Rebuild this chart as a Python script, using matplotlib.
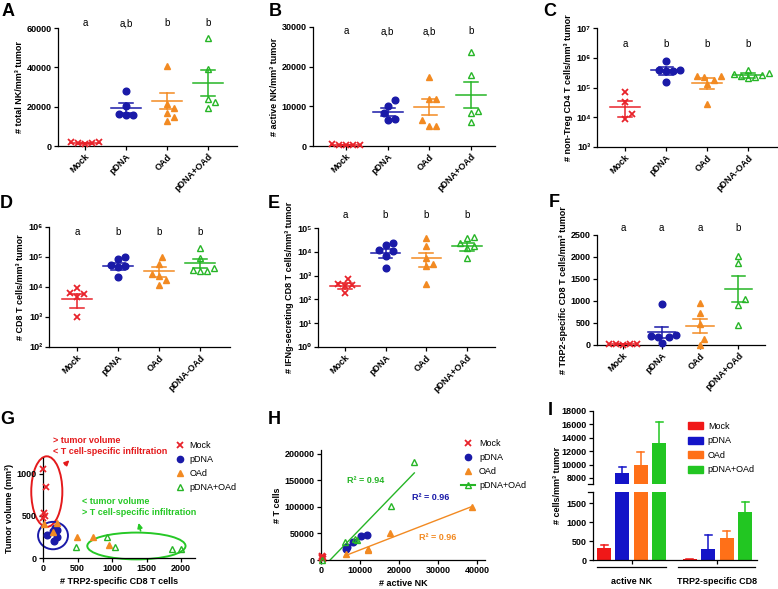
import numpy as np
import matplotlib
matplotlib.use("Agg")
import matplotlib.pyplot as plt
import matplotlib.transforms as mtransforms
from matplotlib.lines import Line2D
from matplotlib.patches import Ellipse, Patch
from matplotlib.ticker import FixedLocator, FuncFormatter, NullLocator

plt.rcParams["font.family"] = ["Liberation Sans", "DejaVu Sans"]
plt.rcParams["axes.linewidth"] = 0.9

W, H = 778, 589

groups = ["Mock", "pDNA", "OAd", "pDNA+OAd"]
groups_dash = ["Mock", "pDNA", "OAd", "pDNA-OAd"]
colors = ["#e8232b", "#1a1aa8", "#f28a22", "#26b526"]
bar_colors = ["#f01818", "#1414c8", "#ff7018", "#22c622"]

# A: total NK per mm3
total_nk = [[900, 1400, 1800, 1300, 2200],
            [28000, 20500, 16200, 15800, 16000],
            [40800, 21400, 19500, 17000, 15000, 12500],
            [55000, 39200, 24000, 22500, 19500]]
total_nk_mean = [1500, 19150, 22900, 32000]
total_nk_sem = [250, 2500, 4200, 6800]
total_nk_sig = ["a", "a,b", "b", "b"]

# B: active NK per mm3
active_nk = [[200, 300, 350, 250, 400],
             [11700, 10200, 8200, 6600, 6700],
             [17500, 11900, 11800, 6500, 5100, 5100],
             [23800, 17900, 8700, 8300, 6000]]
active_nk_mean = [300, 8570, 9750, 12940]
active_nk_sem = [60, 1050, 2000, 3300]
active_nk_sig = ["a", "a,b", "a,b", "b"]

# C: non-Treg CD4 T cells per mm3
cd4 = [[70000, 33000, 12400, 8600],
       [750000, 390000, 380000, 360000, 370000, 155000],
       [250000, 240000, 220000, 180000, 130000, 27000],
       [400000, 300000, 290000, 270000, 250000, 220000, 210000]]
cd4_mean = [22500, 380000, 146000, 265000]
cd4_sem = [12000, 110000, 60000, 50000]
cd4_sig = ["a", "b", "b", "b"]

# D: CD8 T cells per mm3
cd8 = [[9500, 6300, 5700, 4500, 1000],
       [100000, 86000, 55000, 50000, 46000, 22000],
       [98000, 60000, 28000, 24000, 17000, 12000],
       [200000, 95000, 42000, 36000, 34000, 33000]]
cd8_mean = [3960, 49300, 34400, 63700]
cd8_sem = [2000, 12500, 13000, 22000]
cd8_sig = ["a", "b", "b", "b"]

# E: IFNg-secreting CD8 T cells per mm3
ifng = [[720, 430, 400, 380, 190],
        [24000, 20000, 12000, 11000, 6800, 2100],
        [38000, 18000, 5500, 3000, 2500, 440],
        [40000, 38000, 23000, 17000, 14000, 5300]]
ifng_mean = [378, 9340, 5760, 16800]
ifng_sem = [110, 4000, 3500, 6000]
ifng_sig = ["a", "b", "b", "b"]

# F: TRP2-specific CD8 T cells per mm3
trp2 = [[15, 20, 25, 10, 30],
        [940, 220, 200, 190, 180, 50],
        [960, 720, 480, 140, 0],
        [2020, 1860, 1040, 910, 460]]
trp2_mean = [20, 288, 432, 1265]
trp2_sem = [5, 130, 150, 295]
trp2_sig = ["a", "a", "a", "b"]

# G: TRP2-specific CD8 T cells vs tumour volume
g_trp2 = [[0, 50, 15, 25, 0],
          [60, 150, 180, 200, 200, 155],
          [15, 145, 490, 720, 955, 200],
          [472, 925, 1040, 1865, 2000]]
g_volume = [[1060, 840, 530, 500, 480],
            [275, 320, 360, 330, 255, 207],
            [400, 310, 255, 255, 150, 420],
            [135, 255, 127, 104, 111]]

# H: active NK vs T cells
h_nk = [[300, 400, 200, 500, 300],
        [6500, 8100, 10300, 11800, 6600],
        [6500, 12000, 12100, 17600, 38700],
        [200, 6200, 8600, 9200, 18000, 23900]]
h_tcells = [[8000, 5000, 3000, 2000, 6000],
            [21500, 34000, 45500, 47500, 24000],
            [11000, 18000, 21000, 51000, 99000],
            [0, 33000, 40000, 37000, 101000, 185000]]
h_r2 = ["", "0.96", "0.96", "0.94"]

# I: mean and SD of active NK and TRP2-specific CD8
i_categories = ["active NK", "TRP2-specific CD8"]
i_active_nk = [330, 8750, 10000, 13150]
i_active_nk_sd = [70, 950, 1900, 3250]
i_trp2 = [20, 291, 591, 1271]
i_trp2_sd = [5, 370, 186, 274]

SUP = str.maketrans("0123456789-", "⁰¹²³⁴⁵⁶⁷⁸⁹⁻")

fig = plt.figure(figsize=(W / 100, H / 100), dpi=100)


def fy(y):
    return 1 - y / H


def add_ax(left, top, right, bottom):
    return fig.add_axes([left / W, fy(bottom), (right - left) / W, (bottom - top) / H])


def style(ax):
    ax.spines["top"].set_visible(False)
    ax.spines["right"].set_visible(False)
    ax.tick_params(width=0.9, length=3, labelsize=6.5, pad=1.5)
    for t in ax.get_yticklabels() + ax.get_xticklabels():
        t.set_fontweight("bold")


def swarm(ax, x0, ys, d=7):
    disp = ax.transData.transform(np.column_stack([np.full(len(ys), x0), ys]))
    order = np.argsort(disp[:, 1])
    placed = []
    xs = np.zeros(len(ys))
    steps = [0, 0.5, -0.5, 1, -1, 1.5, -1.5, 2, -2, 2.5, -2.5, 3, -3]
    for i in order:
        yi = disp[i, 1]
        for k in steps:
            xi = disp[i, 0] + k * d
            if all((xi - px) ** 2 + (yi - py) ** 2 >= d * d for px, py in placed):
                break
        placed.append((xi, yi))
        xs[i] = xi
    return ax.transData.inverted().transform(np.column_stack([xs, disp[:, 1]]))[:, 0]


def draw_marker(ax, x, y, k, size=4.8):
    if k == 0:
        ax.plot(x, y, ls="none", marker="x", ms=size - 0.5, mew=1.3, color=colors[k], clip_on=False, zorder=3)
    elif k == 1:
        ax.plot(x, y, ls="none", marker="o", ms=size, color=colors[k], clip_on=False, zorder=3)
    elif k == 2:
        ax.plot(x, y, ls="none", marker="^", ms=size, color=colors[k], clip_on=False, zorder=3)
    else:
        ax.plot(x, y, ls="none", marker="^", ms=size, mfc="none", mew=1.0, color=colors[k], clip_on=False, zorder=3)


def dot_panel(box, data, means, sems, sig, sig_y, xlabels, ylabel, ylim, yticks, xlim, log=False):
    ax = add_ax(*box)
    if log:
        ax.set_yscale("log")
    ax.set_xlim(*xlim)
    ax.set_ylim(*ylim)
    ax.yaxis.set_major_locator(FixedLocator(yticks))
    ax.yaxis.set_minor_locator(NullLocator())
    if log:
        ax.yaxis.set_major_formatter(FuncFormatter(
            lambda v, p: "10" + str(int(round(np.log10(v)))).translate(SUP)))
    ax.set_xticks(range(4))
    ax.set_xticklabels(xlabels, rotation=45, ha="right", rotation_mode="anchor")
    style(ax)
    for k, vals in enumerate(data):
        xs = swarm(ax, k, vals)
        draw_marker(ax, xs, vals, k)
        m, s = means[k], sems[k]
        ax.plot([k - 0.36, k + 0.36], [m, m], color=colors[k], lw=1.1, zorder=4)
        ax.plot([k, k], [m - s, m + s], color=colors[k], lw=1.1, zorder=4)
        for v in (m - s, m + s):
            ax.plot([k - 0.17, k + 0.17], [v, v], color=colors[k], lw=1.1, zorder=4)
    tr = mtransforms.blended_transform_factory(ax.transData, fig.transFigure)
    for k, s in enumerate(sig):
        ax.text(k, fy(sig_y), s, transform=tr, ha="center", va="center", fontsize=7)
    ax.set_ylabel(ylabel, fontsize=6.5, fontweight="bold", labelpad=2)
    return ax


def panel_letter(x, y, s):
    fig.text(x / W, fy(y), s, fontsize=13, fontweight="bold", ha="left", va="top")


# top row
dot_panel((58, 28, 237, 146), total_nk, total_nk_mean, total_nk_sem, total_nk_sig, 23,
          groups, "# total NK/mm³ tumor", (0, 60000), [0, 20000, 40000, 60000], (-0.66, 3.7))
dot_panel((313, 27, 495, 146), active_nk, active_nk_mean, active_nk_sem, active_nk_sig, 31,
          groups, "# active NK/mm³ tumor", (0, 30000), [0, 10000, 20000, 30000], (-0.79, 3.57))
dot_panel((597, 28, 777, 147), cd4, cd4_mean, cd4_sem, cd4_sig, 44,
          groups_dash, "# non-Treg CD4 T cells/mm³ tumor", (1e3, 1e7),
          [1e3, 1e4, 1e5, 1e6, 1e7], (-0.68, 3.7), log=True)

# middle row
dot_panel((49, 227, 230, 347), cd8, cd8_mean, cd8_sem, cd8_sig, 232,
          groups_dash, "# CD8 T cells/mm³ tumor", (1e2, 1e6),
          [1e2, 1e3, 1e4, 1e5, 1e6], (-0.68, 3.73), log=True)
dot_panel((318, 228, 495, 347), ifng, ifng_mean, ifng_sem, ifng_sig, 215,
          groups, "# IFNg-secreting CD8 T cells/mm³ tumor", (1e0, 1e5),
          [1e0, 1e1, 1e2, 1e3, 1e4, 1e5], (-0.66, 3.69), log=True)
dot_panel((597, 235, 765, 345), trp2, trp2_mean, trp2_sem, trp2_sig, 228,
          groups, "# TRP2-specific CD8 T cells/mm³ tumor", (0, 2500),
          [0, 500, 1000, 1500, 2000, 2500], (-0.68, 3.69))

# G
axG = add_ax(43, 458, 195, 558)
axG.set_xlim(0, 2200)
axG.set_ylim(0, 1190)
axG.set_xticks([0, 500, 1000, 1500, 2000])
axG.set_yticks([0, 500, 1000])
style(axG)
for k in range(4):
    draw_marker(axG, g_trp2[k], g_volume[k], k)
axG.add_patch(Ellipse((55, 790), 450, 840, fill=False, ec="#e41a1c", lw=1.4, clip_on=False))
axG.add_patch(Ellipse((145, 267), 433, 326, fill=False, ec="#1a1aa8", lw=1.4, clip_on=False))
axG.add_patch(Ellipse((1352, 143), 1422, 319, fill=False, ec="#26c826", lw=1.4, clip_on=False))
axG.annotate("", xy=(410, 1187), xytext=(290, 1088), annotation_clip=False,
             arrowprops=dict(arrowstyle="-|>", color="#e41a1c", lw=1.2, mutation_scale=7))
axG.annotate("", xy=(1374, 450), xytext=(1422, 291), annotation_clip=False,
             arrowprops=dict(arrowstyle="-|>", color="#26c826", lw=1.2, mutation_scale=7))
fig.text(53 / W, fy(446), "> tumor volume\n< T cell-specific infiltration", color="#e41a1c",
         fontsize=6.5, fontweight="bold", va="center", linespacing=1.15)
fig.text(82 / W, fy(507), "< tumor volume\n> T cell-specific infiltration", color="#26c826",
         fontsize=6.5, fontweight="bold", va="center", linespacing=1.15)
axG.set_ylabel("Tumor volume (mm³)", fontsize=6.5, fontweight="bold", labelpad=2)
axG.set_xlabel("# TRP2-specific CD8 T cells", fontsize=6.5, fontweight="bold", labelpad=3)


def marker_handles(line_last=False):
    hs = []
    for k in range(4):
        ls = "-" if (line_last and k == 3) else "none"
        if k == 0:
            hs.append(Line2D([], [], ls=ls, marker="x", ms=4, mew=1.3, color=colors[k]))
        elif k == 3:
            hs.append(Line2D([], [], ls=ls, marker="^", ms=4.5, mfc="none", mew=1, color=colors[k]))
        else:
            hs.append(Line2D([], [], ls=ls, marker="o" if k == 1 else "^", ms=4.5, color=colors[k]))
    return hs


fig.legend(marker_handles(), groups, loc="upper left", bbox_to_anchor=(175 / W, fy(441)),
           frameon=False, fontsize=6.5, handlelength=1.0, handletextpad=0.6,
           labelspacing=0.55, borderpad=0, borderaxespad=0)

# H
axH = add_ax(321, 450, 485, 560)
axH.set_xlim(0, 42000)
axH.set_ylim(0, 207000)
axH.set_xticks([0, 10000, 20000, 30000, 40000])
axH.set_yticks([0, 50000, 100000, 150000, 200000])
style(axH)
for k in range(4):
    draw_marker(axH, h_nk[k], h_tcells[k], k)
    if k > 0:
        x = np.array(h_nk[k], dtype=float)
        y = np.array(h_tcells[k], dtype=float)
        a, b = np.polyfit(x, y, 1)
        xx = np.array([x.min(), x.max()])
        axH.plot(xx, a * xx + b, color=colors[k], lw=1.0, zorder=2)
r2_pos = {1: (23200, 116700), 2: (25000, 42000), 3: (6700, 150000)}
for k, (tx, ty) in r2_pos.items():
    axH.text(tx, ty, "R² = " + h_r2[k], color=colors[k], fontsize=6.5, fontweight="bold",
             ha="left", va="center")
axH.set_ylabel("# T cells", fontsize=6.5, fontweight="bold", labelpad=2)
axH.set_xlabel("# active NK", fontsize=6.5, fontweight="bold", labelpad=3)
fig.legend(marker_handles(line_last=True), groups, loc="upper left",
           bbox_to_anchor=(461 / W, fy(439)), frameon=False, fontsize=6.5, handlelength=1.6,
           handletextpad=0.4, labelspacing=0.55, borderpad=0, borderaxespad=0)

# I (broken axis)
ax_lo = add_ax(593, 492, 757, 560)
ax_hi = add_ax(593, 411, 757, 484)
pos1 = np.arange(4)
pos2 = np.arange(4) + 4.65
for ax in (ax_lo, ax_hi):
    ax.set_xlim(-0.6, 8.3)
    for k in range(4):
        for p, v, e in ((pos1[k], i_active_nk[k], i_active_nk_sd[k]), (pos2[k], i_trp2[k], i_trp2_sd[k])):
            ax.bar(p, v, width=0.76, color=bar_colors[k], zorder=2)
            ax.plot([p, p], [v, v + e], color=bar_colors[k], lw=1.1, zorder=1)
            ax.plot([p - 0.19, p + 0.19], [v + e, v + e], color=bar_colors[k], lw=1.1, zorder=1)
ax_lo.set_ylim(0, 1800)
ax_lo.set_yticks([0, 500, 1000, 1500])
ax_lo.set_xticks([1.5, 6.15])
ax_lo.set_xticklabels(i_categories)
style(ax_lo)
ax_lo.tick_params(axis="x", pad=9)
ax_hi.set_ylim(7100, 18000)
ax_hi.set_yticks(list(range(8000, 18001, 2000)))
ax_hi.set_xticks([])
ax_hi.spines["bottom"].set_visible(False)
style(ax_hi)
for ax, yv in ((ax_lo, 1), (ax_hi, 0)):
    tr = mtransforms.blended_transform_factory(ax.transAxes, ax.transAxes)
    ax.plot([-0.03, 0.0], [yv, yv], transform=tr, color="black", lw=0.9, clip_on=False)
tr = mtransforms.blended_transform_factory(ax_lo.transData, ax_lo.transAxes)
for a, b in ((-0.38, 3.35), (4.0, 8.2)):
    ax_lo.plot([a, b], [-0.105, -0.105], transform=tr, color="black", lw=0.9, clip_on=False)
fig.text(558 / W, fy(485), "# cells/mm³ tumor", rotation=90, fontsize=6.5, fontweight="bold",
         ha="center", va="center")
fig.legend([Patch(color=c) for c in bar_colors], groups, loc="upper left",
           bbox_to_anchor=(688 / W, fy(422)), frameon=False, fontsize=6.5, handlelength=1.7,
           handleheight=0.8, handletextpad=0.5, labelspacing=0.6, borderpad=0, borderaxespad=0)

for x, y, s in ((2, 3, "A"), (269, 3, "B"), (543, 3, "C"), (0, 195, "D"), (268, 195, "E"),
                (549, 194, "F"), (0, 411, "G"), (268, 411, "H"), (548, 402, "I")):
    panel_letter(x, y, s)

fig.savefig("out.png", dpi=100)
